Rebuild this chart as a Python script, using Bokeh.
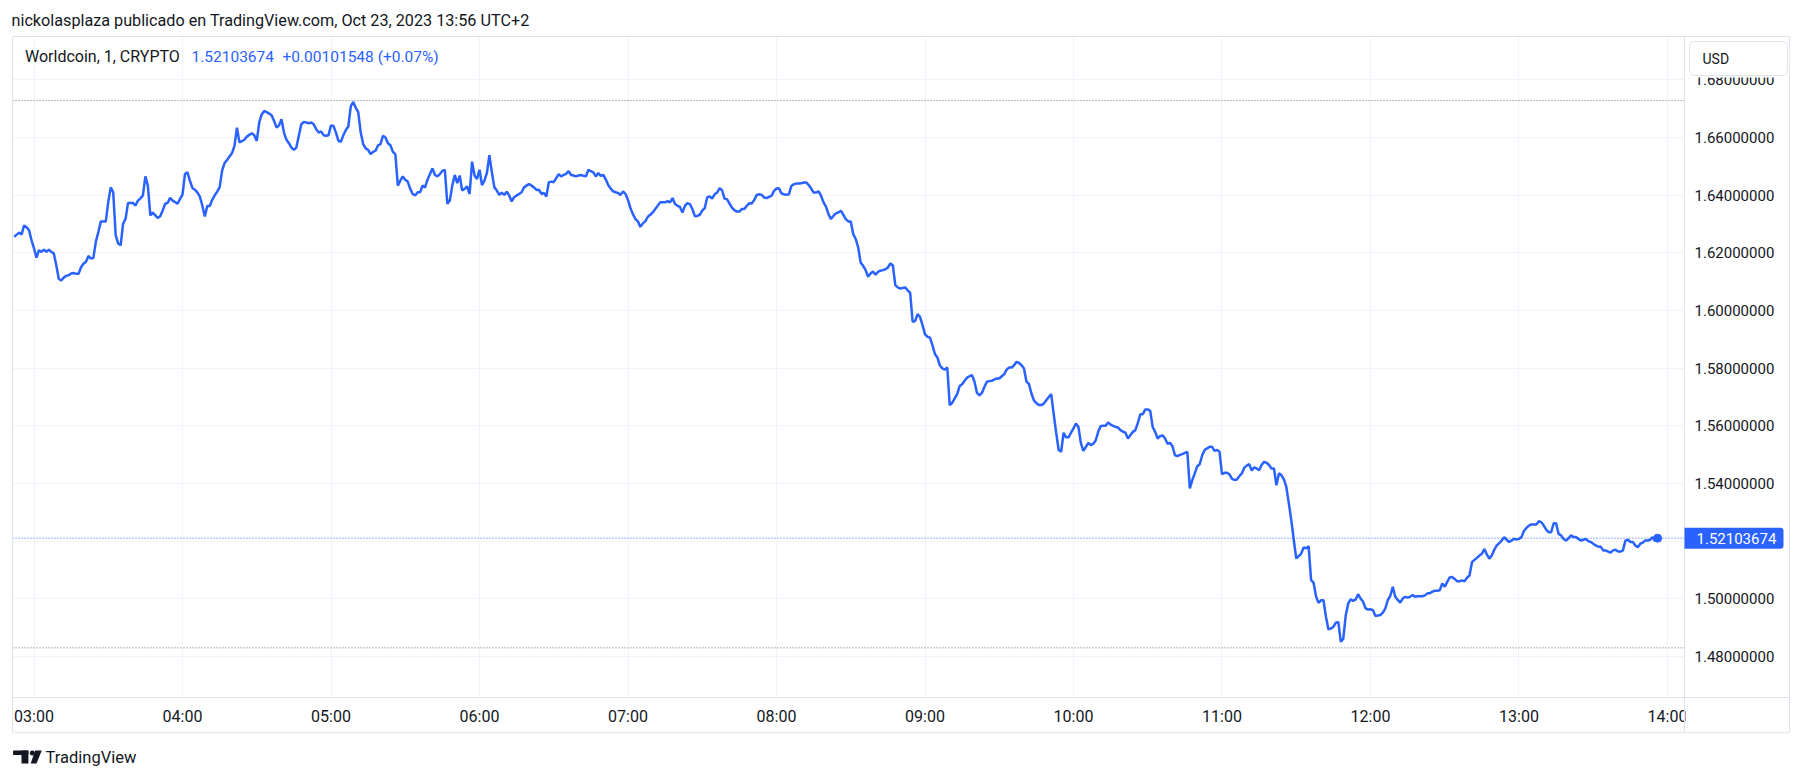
import pandas as pd
from bokeh.plotting import figure
from bokeh.models import (Range1d, FixedTicker, PrintfTickFormatter, DatetimeTickFormatter,
                          Label, BoxAnnotation, PolyAnnotation, ColumnDataSource, Grid)
from bokeh.embed import file_html
from bokeh.resources import INLINE

# ---------------- data ----------------
publisher_line = "nickolasplaza publicado en TradingView.com, Oct 23, 2023 13:56 UTC+2"
symbol_line = "Worldcoin, 1, CRYPTO"
currency = "USD"
brand = "TradingView"
session_day = "2023-10-23"
last_bar_time = "2023-10-23 13:56"

# 1-minute closes, 02:52 ... 13:56
closes = [
    1.6255, 1.6263, 1.6270, 1.6264, 1.6295, 1.6289, 1.6278, 1.6243, 1.6215, 1.6183, 1.6209, 1.6203,
    1.6211, 1.6203, 1.6211, 1.6203, 1.6198, 1.6157,
    1.6110, 1.6104, 1.6114, 1.6120, 1.6122, 1.6128, 1.6130, 1.6127, 1.6127, 1.6150, 1.6162,
    1.6169, 1.6189, 1.6180, 1.6183, 1.6239, 1.6272, 1.6309, 1.6309, 1.6309, 1.6376,
    1.6427, 1.6410, 1.6261, 1.6232, 1.6226, 1.6301, 1.6318, 1.6373, 1.6373, 1.6373,
    1.6364, 1.6381, 1.6389, 1.6399, 1.6465, 1.6433, 1.6330, 1.6339, 1.6330, 1.6321,
    1.6327, 1.6347, 1.6370, 1.6373, 1.6391, 1.6381, 1.6376, 1.6370, 1.6387, 1.6402,
    1.6473, 1.6479, 1.6450, 1.6425, 1.6419, 1.6410, 1.6395, 1.6364, 1.6326, 1.6362,
    1.6362, 1.6384, 1.6399, 1.6412, 1.6427, 1.6485, 1.6511, 1.6522, 1.6534, 1.6546,
    1.6571, 1.6634, 1.6583, 1.6587, 1.6592, 1.6603, 1.6609, 1.6615, 1.6608, 1.6588,
    1.6652, 1.6680, 1.6692, 1.6688, 1.6683, 1.6677, 1.6657, 1.6634, 1.6642, 1.6663,
    1.6617, 1.6592, 1.6580, 1.6565, 1.6557, 1.6565, 1.6606, 1.6646, 1.6654, 1.6652, 1.6649,
    1.6652, 1.6646, 1.6629, 1.6617, 1.6621, 1.6608, 1.6606, 1.6608, 1.6642,
    1.6640, 1.6617, 1.6588, 1.6585, 1.6608, 1.6626, 1.6638, 1.6709, 1.6723, 1.6703,
    1.6688, 1.6617, 1.6577, 1.6562, 1.6557, 1.6542, 1.6550, 1.6554, 1.6573, 1.6577,
    1.6606, 1.6600, 1.6580, 1.6573, 1.6550, 1.6542, 1.6433, 1.6450, 1.6465, 1.6453,
    1.6447, 1.6422, 1.6404, 1.6399, 1.6410, 1.6410, 1.6433, 1.6427, 1.6454, 1.6473,
    1.6493, 1.6470, 1.6465, 1.6473, 1.6484, 1.6488, 1.6370, 1.6381, 1.6433, 1.6470,
    1.6442, 1.6468, 1.6416, 1.6422, 1.6430, 1.6404, 1.6516, 1.6468, 1.6456, 1.6488,
    1.6435, 1.6450, 1.6477, 1.6539, 1.6479, 1.6427, 1.6416, 1.6401, 1.6408, 1.6401,
    1.6412, 1.6399, 1.6378, 1.6393, 1.6399, 1.6404, 1.6410, 1.6427, 1.6433, 1.6439,
    1.6433, 1.6427, 1.6418, 1.6419, 1.6404, 1.6408, 1.6395, 1.6445, 1.6447, 1.6445,
    1.6459, 1.6473, 1.6465, 1.6470, 1.6474, 1.6483, 1.6470, 1.6468, 1.6465, 1.6468,
    1.6470, 1.6467, 1.6465, 1.6488, 1.6483, 1.6479, 1.6465, 1.6477,
    1.6467, 1.6470, 1.6455, 1.6435, 1.6423, 1.6413, 1.6410, 1.6407, 1.6401, 1.6413, 1.6404, 1.6383,
    1.6355, 1.6334, 1.6317, 1.6309, 1.6290, 1.6302, 1.6309, 1.6325, 1.6332, 1.6340,
    1.6352, 1.6363, 1.6375, 1.6375, 1.6375, 1.6379, 1.6375, 1.6390, 1.6369, 1.6363,
    1.6359, 1.6340, 1.6363, 1.6372, 1.6369, 1.6352, 1.6327, 1.6328, 1.6332, 1.6346,
    1.6355, 1.6392, 1.6396, 1.6388, 1.6403, 1.6409, 1.6424, 1.6417, 1.6388, 1.6386,
    1.6371, 1.6357, 1.6348, 1.6343, 1.6343, 1.6352, 1.6352, 1.6363, 1.6372, 1.6371,
    1.6383, 1.6401, 1.6403, 1.6401, 1.6392, 1.6390, 1.6394, 1.6398, 1.6415, 1.6423,
    1.6424, 1.6406, 1.6403, 1.6401, 1.6403, 1.6432, 1.6438, 1.6440, 1.6440, 1.6441,
    1.6444, 1.6444, 1.6435, 1.6423, 1.6409, 1.6409, 1.6413, 1.6398, 1.6375, 1.6360,
    1.6334, 1.6317, 1.6328, 1.6337, 1.6340, 1.6346, 1.6332, 1.6317, 1.6309, 1.6309,
    1.6265, 1.6248, 1.6219, 1.6166, 1.6155, 1.6140, 1.6117, 1.6128, 1.6135, 1.6124,
    1.6134, 1.6138, 1.6140, 1.6143, 1.6149, 1.6163, 1.6157, 1.6088, 1.6080, 1.6076,
    1.6078, 1.6080, 1.6070, 1.6061, 1.5961, 1.5963, 1.5987, 1.5978, 1.5949, 1.5917,
    1.5909, 1.5906, 1.5880, 1.5849, 1.5837, 1.5810, 1.5799, 1.5795, 1.5802, 1.5672,
    1.5680, 1.5695, 1.5710, 1.5738, 1.5744, 1.5756, 1.5767, 1.5772, 1.5776, 1.5753,
    1.5714, 1.5706, 1.5714, 1.5735, 1.5753, 1.5755, 1.5756, 1.5761, 1.5764, 1.5764,
    1.5772, 1.5779, 1.5795, 1.5802, 1.5802, 1.5810, 1.5822, 1.5818, 1.5810, 1.5799,
    1.5753, 1.5745, 1.5712, 1.5688, 1.5679, 1.5672, 1.5672, 1.5677, 1.5689, 1.5700,
    1.5710, 1.5640, 1.5576, 1.5516, 1.5510, 1.5576, 1.5560, 1.5560, 1.5576, 1.5591,
    1.5608, 1.5596, 1.5539, 1.5513, 1.5527, 1.5541, 1.5533, 1.5538, 1.5550, 1.5580,
    1.5599, 1.5600, 1.5600, 1.5612, 1.5604, 1.5600, 1.5596, 1.5594, 1.5585, 1.5580,
    1.5576, 1.5556, 1.5568, 1.5579, 1.5585, 1.5610, 1.5640, 1.5640, 1.5657, 1.5657,
    1.5652, 1.5596, 1.5579, 1.5556, 1.5564, 1.5567, 1.5556, 1.5538, 1.5541, 1.5529,
    1.5498, 1.5495, 1.5499, 1.5502, 1.5506, 1.5510, 1.5383, 1.5412, 1.5435, 1.5460,
    1.5467, 1.5498, 1.5516, 1.5522, 1.5527, 1.5527, 1.5513, 1.5516, 1.5510, 1.5432,
    1.5437, 1.5437, 1.5432, 1.5417, 1.5412, 1.5414, 1.5425, 1.5435, 1.5455, 1.5462,
    1.5467, 1.5445, 1.5456, 1.5452, 1.5446, 1.5464, 1.5475, 1.5472, 1.5464, 1.5452,
    1.5452, 1.5394, 1.5435, 1.5429, 1.5414, 1.5388, 1.5331, 1.5273, 1.5204, 1.5140,
    1.5148, 1.5157, 1.5178, 1.5175, 1.5183, 1.5065, 1.5056, 1.5008, 1.4986, 1.4995,
    1.4995, 1.4938, 1.4894, 1.4897, 1.4903, 1.4917, 1.4920, 1.4851, 1.4862, 1.4943,
    1.4984, 1.4998, 1.4993, 1.4998, 1.5016, 1.5001, 1.4990, 1.4967, 1.4963, 1.4964,
    1.4961, 1.4940, 1.4942, 1.4944, 1.4952, 1.4967, 1.4996, 1.5010, 1.5042, 1.5007,
    1.4996, 1.4987, 1.5001, 1.5007, 1.5004, 1.5007, 1.5013, 1.5007, 1.5009, 1.5009,
    1.5009, 1.5012, 1.5019, 1.5019, 1.5025, 1.5028, 1.5028, 1.5030, 1.5053, 1.5042,
    1.5059, 1.5074, 1.5076, 1.5069, 1.5061, 1.5061, 1.5064, 1.5061, 1.5073, 1.5081,
    1.5127, 1.5135, 1.5142, 1.5150, 1.5156, 1.5173, 1.5154, 1.5139, 1.5150, 1.5170,
    1.5185, 1.5193, 1.5202, 1.5214, 1.5205, 1.5197, 1.5202, 1.5208, 1.5206, 1.5208,
    1.5214, 1.5235, 1.5246, 1.5254, 1.5258, 1.5258, 1.5258, 1.5269, 1.5266, 1.5254,
    1.5240, 1.5231, 1.5231, 1.5262, 1.5262, 1.5225, 1.5220, 1.5208, 1.5202, 1.5210,
    1.5220, 1.5214, 1.5214, 1.5208, 1.5202, 1.5205, 1.5208, 1.5200, 1.5197, 1.5191,
    1.5185, 1.5181, 1.5181, 1.5168, 1.5168, 1.5164, 1.5160, 1.5168, 1.5170, 1.5164,
    1.5164, 1.5168, 1.5202, 1.5205, 1.5197, 1.5197, 1.5185, 1.5179, 1.5191, 1.5195,
    1.5202, 1.5202, 1.5205, 1.5214, 1.5200, 1.52103674,
]
last_price = 1.52103674
change_abs = 0.00101548
change_pct = 0.07
session_high = 1.6728
session_low = 1.4830
price_ticks = [1.48, 1.50, 1.52, 1.54, 1.56, 1.58, 1.60, 1.62, 1.64, 1.66, 1.68]
hour_labels = ["03:00", "04:00", "05:00", "06:00", "07:00", "08:00",
               "09:00", "10:00", "11:00", "12:00", "13:00", "14:00"]

# ---------------- layout (pixels of the 1804x780 page) ----------------
W, H = 1804, 780
PANE_L, PANE_R, PANE_T, PANE_B = 12, 1684, 36, 697     # price pane
OUT_R, OUT_B = 1789, 732                               # outer frame
VIEW_MIN_START, VIEW_MIN_END = -8.69, 666.87           # minutes after 03:00 at pane edges
VIEW_P_BOTTOM, VIEW_P_TOP = 1.46578, 1.69502           # price at pane bottom / top

t0 = pd.Timestamp(f"{session_day} 03:00")
t0_ms = t0.value / 1e6
px_per_min = (PANE_R - PANE_L) / (VIEW_MIN_END - VIEW_MIN_START)
px_per_unit = (PANE_B - PANE_T) / (VIEW_P_TOP - VIEW_P_BOTTOM)


def px_to_ms(px):
    return t0_ms + (VIEW_MIN_START + (px - PANE_L) / px_per_min) * 60000.0


def py_to_val(py):
    return VIEW_P_TOP - (py - PANE_T) / px_per_unit


def sy(py):          # page y -> screen units measured from bottom of the canvas
    return H - py


TXT = "#131722"
BLUE = "#2962ff"
GRID = "#f0f3fa"
SEP = "#e0e3eb"
DOT = "#6a6d78"
FONT = "Roboto"

# ---------------- figure ----------------
times = pd.date_range(end=last_bar_time, periods=len(closes), freq="min")
src = ColumnDataSource(dict(t=times, c=closes))
hour_ms = [pd.Timestamp(f"{session_day} {h}").value / 1e6 for h in hour_labels]

p = figure(width=W, height=H, x_axis_type="datetime", y_axis_location="right",
           x_range=Range1d(px_to_ms(0), px_to_ms(W)), y_range=Range1d(py_to_val(H), py_to_val(0)),
           output_backend="svg", toolbar_location=None, title=None,
           min_border=0, min_border_left=0, min_border_right=0, min_border_top=0,
           min_border_bottom=0)
p.outline_line_color = None
p.background_fill_color = "white"
p.border_fill_color = "white"

xt = FixedTicker(ticks=hour_ms)
yt = FixedTicker(ticks=price_ticks)
xa, ya = p.xaxis[0], p.yaxis[0]
xa.ticker = xt
ya.ticker = yt
fmt = "%H:%M"
xa.formatter = DatetimeTickFormatter(hours=fmt, hourmin=fmt, minutes=fmt, minsec=fmt,
                                     days=fmt, seconds=fmt)
ya.formatter = PrintfTickFormatter(format="%.8f")
xa.fixed_location = py_to_val(PANE_B)
ya.fixed_location = px_to_ms(PANE_R)
xa.bounds = (px_to_ms(PANE_L), px_to_ms(OUT_R))
ya.bounds = (py_to_val(OUT_B), py_to_val(PANE_T))
for ax in (xa, ya):
    ax.major_tick_line_color = None
    ax.minor_tick_line_color = None
    ax.major_tick_out = 0
    ax.major_tick_in = 0
    ax.minor_tick_out = 0
    ax.minor_tick_in = 0
    ax.axis_line_color = SEP
    ax.axis_line_width = 1
    ax.major_label_text_font = FONT
    ax.major_label_text_color = TXT
xa.major_label_text_font_size = "16px"
ya.major_label_text_font_size = "15px"
xa.major_label_standoff = 9
ya.major_label_standoff = 10

p.xgrid.ticker = xt
p.ygrid.ticker = yt
p.xgrid.grid_line_color = GRID
p.ygrid.grid_line_color = GRID
if "cross_bounds" in Grid.properties():
    p.xgrid.cross_bounds = (py_to_val(PANE_B), py_to_val(PANE_T))
    p.ygrid.cross_bounds = (px_to_ms(PANE_L), px_to_ms(PANE_R))
    p.xgrid.bounds = (px_to_ms(PANE_L), px_to_ms(PANE_R))
    p.ygrid.bounds = (py_to_val(PANE_B), py_to_val(PANE_T))
else:
    p.xgrid.visible = False
    p.ygrid.visible = False
    p.segment(x0=hour_ms, x1=hour_ms, y0=[py_to_val(PANE_B)] * len(hour_ms),
              y1=[py_to_val(PANE_T)] * len(hour_ms), line_color=GRID, level="underlay")
    p.segment(x0=[px_to_ms(PANE_L)] * len(price_ticks), x1=[px_to_ms(PANE_R)] * len(price_ticks),
              y0=price_ticks, y1=price_ticks, line_color=GRID, level="underlay")

# high / low / last dotted levels across the pane
p.segment(x0=[px_to_ms(PANE_L)] * 2, x1=[px_to_ms(PANE_R)] * 2,
          y0=[session_high, session_low], y1=[session_high, session_low],
          line_color=DOT, line_dash="1 2", line_width=1)
p.segment(x0=[px_to_ms(PANE_L)], x1=[px_to_ms(PANE_R)], y0=[last_price], y1=[last_price],
          line_color=BLUE, line_dash="1 2", line_width=1)

p.line("t", "c", source=src, line_color=BLUE, line_width=2.5)
p.scatter(x=[times[-1]], y=[closes[-1]], size=8, color=BLUE)


def sbox(l, r, t, b, **kw):
    return BoxAnnotation(left=l, right=r, top=sy(t), bottom=sy(b), left_units="screen",
                         right_units="screen", top_units="screen", bottom_units="screen", **kw)


# hide the part of the time axis under the price scale column
p.add_layout(sbox(PANE_R + 1, OUT_R - 1, PANE_B + 1, OUT_B - 1, fill_color="white",
                  fill_alpha=1, line_alpha=0))
# outer frame
p.add_layout(sbox(PANE_L, OUT_R, PANE_T, OUT_B, fill_alpha=0, line_color=SEP,
                  line_alpha=1, line_width=1))
p.add_layout(sbox(PANE_L, OUT_R, OUT_B, OUT_B, fill_alpha=0, line_color="#eceef2",
                  line_alpha=1, line_width=2))

# currency box (with its white backing that hides the topmost scale label)
p.add_layout(sbox(PANE_R + 1, OUT_R - 1, PANE_T + 1, 77, fill_color="white", fill_alpha=1,
                  line_alpha=0))
p.add_layout(sbox(1689, 1787, 41, 75, fill_color="white", fill_alpha=1,
                  line_color=SEP, line_alpha=1, line_width=1, border_radius=5))
p.add_layout(Label(x=1702, y=sy(58.5), x_units="screen", y_units="screen", text=currency,
                   text_baseline="middle", text_font=FONT, text_font_size="14px",
                   text_color=TXT))

# last price tag on the price scale
tag_half = 10.5 / px_per_unit
p.add_layout(BoxAnnotation(left=PANE_R, right=1783, left_units="screen", right_units="screen",
                           top=last_price + tag_half, bottom=last_price - tag_half,
                           fill_color=BLUE, fill_alpha=1, line_alpha=0,
                           border_radius=dict(top_left=0, top_right=3, bottom_right=3,
                                              bottom_left=0)))
p.add_layout(Label(x=1696, y=last_price, x_units="screen", y_units="data",
                   text=f"{last_price:.8f}", text_align="left", text_baseline="middle",
                   text_font=FONT, text_font_size="15px", text_color="white"))

# header / legend
p.add_layout(Label(x=11, y=sy(20), x_units="screen", y_units="screen", text=publisher_line,
                   text_baseline="middle", text_font=FONT, text_font_size="16.2px",
                   text_color=TXT))
p.add_layout(Label(x=24.5, y=sy(56), x_units="screen", y_units="screen", text=symbol_line,
                   text_baseline="middle", text_font=FONT, text_font_size="16px",
                   text_color=TXT))
p.add_layout(Label(x=191, y=sy(56), x_units="screen", y_units="screen",
                   text=f"{last_price:.8f}", text_baseline="middle", text_font=FONT,
                   text_font_size="15.5px", text_color=BLUE))
p.add_layout(Label(x=282, y=sy(56), x_units="screen", y_units="screen",
                   text=f"+{change_abs:.8f} (+{change_pct:.2f}%)", text_baseline="middle",
                   text_font=FONT, text_font_size="15.5px", text_color=BLUE))

# footer brand
p.add_layout(Label(x=45, y=sy(757), x_units="screen", y_units="screen", text=brand,
                   text_baseline="middle", text_font=FONT, text_font_size="16.5px",
                   text_color=TXT))
p.add_layout(sbox(12.6, 27.9, 750, 754.5, fill_color=TXT, fill_alpha=1, line_alpha=0))
p.add_layout(sbox(21.0, 27.9, 750, 763, fill_color=TXT, fill_alpha=1, line_alpha=0))
p.add_layout(sbox(29.3, 34.3, 750, 755, fill_color=TXT, fill_alpha=1, line_alpha=0,
                  border_radius=3))
p.add_layout(PolyAnnotation(xs=[34.6, 41.3, 36.0, 30.2],
                            ys=[sy(750), sy(750), sy(763), sy(763)],
                            xs_units="screen", ys_units="screen", fill_color=TXT,
                            fill_alpha=1, line_alpha=0))

open("out.html", "w").write(file_html(p, INLINE))
